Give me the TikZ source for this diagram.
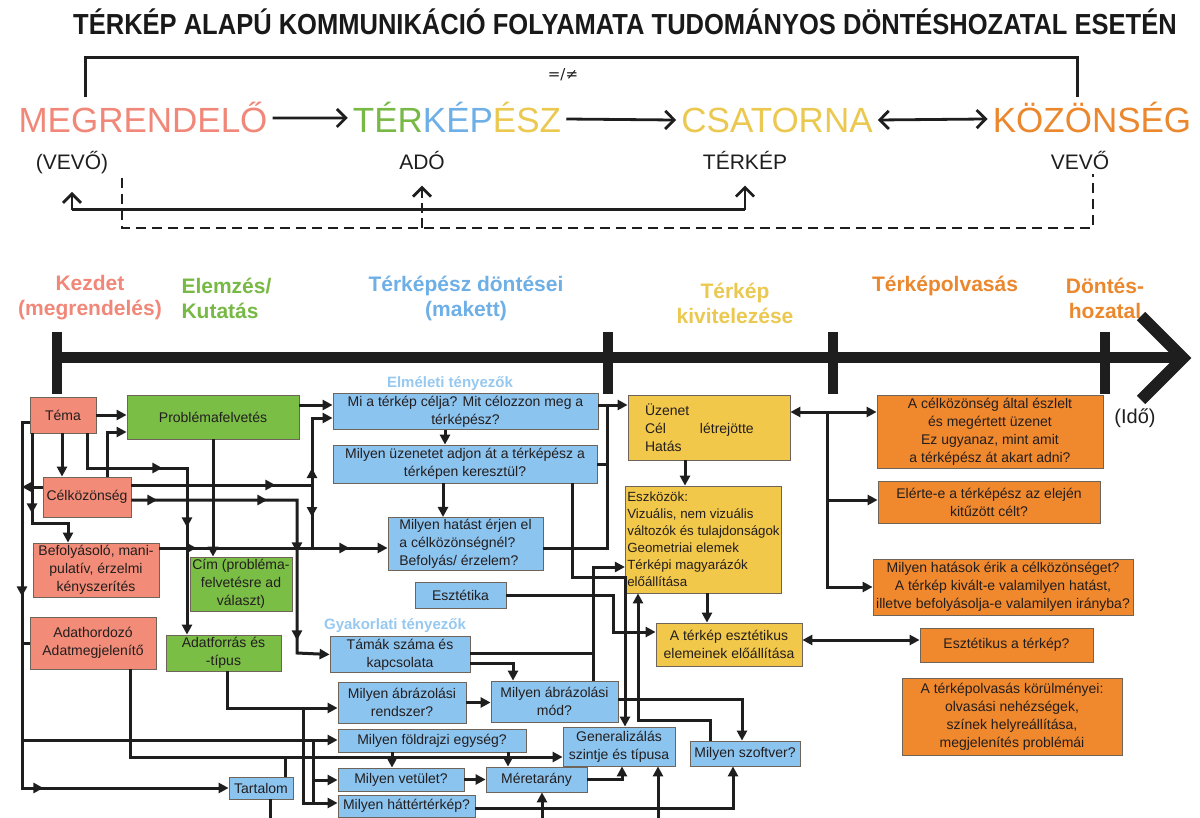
\documentclass[tikz,border=0pt]{standalone}
\usepackage{fontspec}
\setmainfont{Liberation Sans}
\newfontfamily\symfont{DejaVu Sans}
\usepackage{graphicx}
\usepackage{tikz}
\usetikzlibrary{positioning,arrows.meta,decorations.markings}

\definecolor{titlec}{RGB}{25,25,25}
\definecolor{lnc}{RGB}{30,30,30}
\definecolor{tsalm}{RGB}{240,135,120}
\definecolor{tgreen}{RGB}{120,185,70}
\definecolor{tblue}{RGB}{110,175,230}
\definecolor{tyellow}{RGB}{235,200,80}
\definecolor{torange}{RGB}{235,135,45}
\definecolor{salmfill}{RGB}{242,140,120}
\definecolor{greenfill}{RGB}{122,190,70}
\definecolor{bluefill}{RGB}{140,196,240}
\definecolor{yellowfill}{RGB}{242,200,75}
\definecolor{orangefill}{RGB}{240,136,45}
\definecolor{boxline}{RGB}{110,100,90}
\definecolor{boxtxt}{RGB}{35,30,30}
\definecolor{labblue}{RGB}{150,200,240}

\tikzset{
  box/.style={draw=boxline, line width=0.8, inner sep=2pt, align=center, text=boxtxt,
    font=\fontsize{14}{18}\selectfont},
  sbox/.style={box, fill=salmfill},
  gbox/.style={box, fill=greenfill},
  bbox/.style={box, fill=bluefill},
  ybox/.style={box, fill=yellowfill},
  obox/.style={box, fill=orangefill},
  ln/.style={line width=3, draw=lnc},
  arr/.style={ln, ->},
  midarr/.style={postaction={decorate, decoration={markings, mark=at position #1 with {\arrow{>}}}}},
  barb/.tip={Straight Barb[length=9pt,width=18pt]},
  oarr/.style={line width=2.8, draw=lnc, -barb},
  dln/.style={line width=2.8, draw=lnc, dash pattern=on 10pt off 6pt},
  bigw/.style={font=\fontsize{35}{35}\selectfont, anchor=base, inner sep=5pt},
  subw/.style={font=\fontsize{21}{21}\selectfont, anchor=base, text=lnc},
  hdr/.style={font=\fontsize{21}{25}\selectfont\bfseries, align=center},
  grp/.style={font=\fontsize{15}{15}\selectfont\bfseries, text=labblue},
}

\begin{document}
\begin{tikzpicture}[x=1pt, y=-1pt, >={Triangle[length=10pt,width=10pt]}]
\useasboundingbox (0,0) rectangle (1200,818);

% title
\node[font=\fontsize{29}{29}\selectfont\bfseries, text=titlec] (title) at (625,22)
  {\scalebox{0.88}[1]{TÉRKÉP ALAPÚ KOMMUNIKÁCIÓ FOLYAMATA TUDOMÁNYOS DÖNTÉSHOZATAL ESETÉN}};

% communication chain
\node[bigw, text=tsalm] (meg) at (143,133) {MEGRENDELŐ};
\node[bigw] (terk) at (457,133) {\textcolor{tgreen}{TÉR}\textcolor{tblue}{KÉP}\textcolor{tyellow}{ÉSZ}};
\node[bigw, text=tyellow] (csat) at (777,133) {CSATORNA};
\node[bigw, text=torange] (koz) at (1092,133) {KÖZÖNSÉG};
\node[subw] (vevo1) at (72,170) {(VEVŐ)};
\node[subw] (ado) at (422,170) {ADÓ};
\node[subw] (terkep) at (745,170) {TÉRKÉP};
\node[subw] (vevo2) at (1080,170) {VEVŐ};
\node[font=\fontsize{15}{15}\symfont, text=lnc] (neq) at (563,75) {=/≠};

\draw[oarr] (meg) -- (terk);
\draw[oarr] (terk) -- (csat);
\draw[oarr, barb-barb] (csat) -- (koz);
\draw[ln] (meg.north -| 85,0) -- (85,58) -| (koz.north -| 1077,0);

\coordinate (sl) at (72,210);
\coordinate (sr) at (745,210);
\coordinate (sa) at (422,228);
\draw[ln] (sl) -- (sr);
\draw[oarr, shorten >=14pt] (sl) -- (vevo1.south);
\draw[oarr, shorten >=12pt] (sr) -- (terkep.south);
\draw[oarr, dash pattern=on 10pt off 5pt, shorten >=12pt] (sa) -- (ado.south);
\draw[dln] (vevo1.south -| 122,0) -- (122,228) -| (vevo2.south -| 1093,0);

% time axis
\node[hdr, text=tsalm] (h1) at (90,298) {Kezdet\\(megrendelés)};
\node[hdr, text=tgreen, align=left, anchor=west] (h2) at (178,298) {Elemzés/\\Kutatás};
\node[hdr, text=tblue] (h3) at (466,298) {Térképész döntései\\(makett)};
\node[hdr, text=tyellow] (h4) at (735,303) {Térkép\\kivitelezése};
\node[hdr, text=torange] (h5) at (945,286) {Térképolvasás};
\node[hdr, text=torange] (h6) at (1105,298) {Döntés-\\hozatal};
\draw[line width=11, lnc] (57,358) -- (1180,358);
\draw[line width=12, lnc, line join=miter] (1141,316) -- (1183,358) -- (1141,400);
\foreach \x in {57,608,833,1105} { \draw[line width=10, lnc] (\x,332) -- (\x,394); }
\node[font=\fontsize{20}{20}\selectfont, text=lnc] (ido) at (1135,418) {(Idő)};

\node[grp] (elm) at (450,384) {Elméleti tényezők};
\node[grp] (gyak) at (395,626) {Gyakorlati tényezők};

% boxes
\node[sbox, minimum width=66, minimum height=36] (tema) at (63,415) {Téma};
\node[sbox, minimum width=88, minimum height=40] (celk) at (87,497) {Célközönség};
\node[sbox, minimum width=126, minimum height=54] (befoly) at (96,570) {Befolyásoló, mani-\\pulatív, érzelmi\\kényszerítés};
\node[sbox, minimum width=126, minimum height=52] (adath) at (93,643) {Adathordozó\\Adatmegjelenítő};

\node[gbox, minimum width=172, minimum height=44] (probl) at (213,417) {Problémafelvetés};
\node[gbox, minimum width=102, minimum height=54] (cim) at (241,584) {Cím (probléma-\\felvetésre ad\\választ)};
\node[gbox, minimum width=115, minimum height=36] (adatf) at (223.5,653) {Adatforrás és\\-típus};

\node[bbox, minimum width=265, minimum height=33] (cel) at (465.5,411.5) {Mi a térkép célja? Mit célozzon meg a\\térképész?};
\node[bbox, minimum width=264, minimum height=38] (uzen) at (465,464) {Milyen üzenetet adjon át a térképész a\\térképen keresztül?};
\node[bbox, minimum width=155, minimum height=52, align=left] (hatas) at (465.5,544) {Milyen hatást érjen el\\a célközönségnél?\\Befolyás/ érzelem?};
\node[bbox, minimum width=91, minimum height=26] (eszt) at (460.5,595) {Esztétika};
\node[bbox, minimum width=140, minimum height=35] (temak) at (400,654.5) {Támák száma és\\kapcsolata};
\node[bbox, minimum width=128, minimum height=41] (rendsz) at (402,702.5) {Milyen ábrázolási\\rendszer?};
\node[bbox, minimum width=127, minimum height=41] (mod) at (554.5,701.5) {Milyen ábrázolási\\mód?};
\node[bbox, minimum width=188, minimum height=23] (foldr) at (432,740.5) {Milyen földrajzi egység?};
\node[bbox, minimum width=112, minimum height=39] (gener) at (619,746.5) {Generalizálás\\szintje és típusa};
\node[bbox, minimum width=126, minimum height=23] (vetul) at (401,779.5) {Milyen vetület?};
\node[bbox, minimum width=101, minimum height=25] (meret) at (536.5,779.5) {Méretarány};
\node[bbox, minimum width=137, minimum height=22] (hatter) at (406.5,806) {Milyen háttértérkép?};
\node[bbox, minimum width=64, minimum height=22] (tartalom) at (261,788) {Tartalom};
\node[bbox, minimum width=110, minimum height=25] (szoftv) at (745,753.5) {Milyen szoftver?};

\node[ybox, minimum width=162, minimum height=65, text width=128, align=left] (letrej) at (709,427.5) {Üzenet\\\makebox[55pt][l]{Cél}létrejötte\\Hatás};
\node[ybox, minimum width=153, minimum height=107, align=left, font=\fontsize{13.3}{17}\selectfont] (eszkoz) at (703.5,539.5) {Eszközök:\\Vizuális, nem vizuális\\változók és tulajdonságok\\Geometriai elemek\\Térképi magyarázók\\előállítása};
\node[ybox, minimum width=146, minimum height=43] (esztel) at (729,644.5) {A térkép esztétikus\\elemeinek előállítása};

\node[obox, minimum width=226, minimum height=73] (oeszl) at (990,431.5) {A célközönség által észlelt\\és megértett üzenet\\Ez ugyanaz, mint amit\\a térképész át akart adni?};
\node[obox, minimum width=222, minimum height=42] (oelert) at (989,502) {Elérte-e a térképész az elején\\kitűzött célt?};
\node[obox, minimum width=260, minimum height=56] (ohatas) at (1003,587) {Milyen hatások érik a célközönséget?\\A térkép kivált-e valamilyen hatást,\\illetve befolyásolja-e valamilyen irányba?};
\node[obox, minimum width=173, minimum height=34] (oeszt) at (1006.5,645) {Esztétikus a térkép?};
\node[obox, minimum width=220, minimum height=77] (okorul) at (1012,716.5) {A térképolvasás körülményei:\\olvasási nehézségek,\\színek helyreállítása,\\megjelenítés problémái};

% bus points
\coordinate (busA) at (312,485);
\coordinate (busB) at (607,405);
\coordinate (busC) at (593,653);
\coordinate (busD) at (827,412);
\coordinate (busE) at (303,708);
\coordinate (busF) at (313,740);
\coordinate (bt1) at (542,818);
\coordinate (bt2) at (658,818);
\coordinate (bt3) at (270,818);

% left side
\draw[arr] (tema.east) -- (tema.east -| probl.west);
\draw[arr] (tema.south -| 62,0) -- (celk.north -| 62,0);
\draw[arr, midarr=80pt] (tema.south -| 32,0) |- (68,523) -- (befoly.north -| 68,0);
\draw[arr, midarr=182pt, midarr=395pt] (tema.west |- 0,422) -| (22,788) -- (tartalom.west);
\draw[ln] (22,643) -- (adath.west);
\draw[arr] (celk.west |- 0,487) -- (22,487);
\draw[arr, midarr=110pt, midarr=194pt] (tema.south -| 87,0) |- (187,468) -- (adatf.north -| 187,0);
\draw[arr] (celk.north -| 107,0) |- (probl.west |- 0,432);
\draw[ln, midarr=144pt] (celk.east |- 0,485) -- (busA);
\draw[arr, midarr=17pt] (busA) |- (cel.west |- 0,418);
\draw[ln, midarr=32pt] (busA) -- (312,548);
\draw[arr, midarr=26pt, midarr=136pt, midarr=218pt, midarr=306pt] (celk.east |- 0,500) -| (297,653) -- (temak.west);
\draw[arr] (probl.east |- 0,405) -- (cel.west |- 0,405);
\draw[arr] (probl.south -| 213,0) -- (cim.north -| 213,0);
\draw[arr, midarr=37pt, midarr=190pt] (befoly.east |- 0,548) -- (hatas.west |- 0,548);

% theoretical factors
\draw[arr] (cel.south -| 445,0) -- (uzen.north -| 445,0);
\draw[arr] (uzen.south -| 443,0) -- (hatas.north -| 443,0);
\draw[arr] (cel.east |- 0,405) -- (letrej.west |- 0,405);
\draw[ln] (uzen.east) -- (uzen.east -| busB);
\draw[ln] (hatas.east |- 0,548) -| (busB);
\draw[arr] (uzen.south -| 572,0) |- (625,577) -- (gener.north -| 625,0);
\draw[arr] (eszt.east) -| (613,632) -- (esztel.west |- 0,632);

% practical factors
\draw[arr] (temak.east |- 0,653) -| (593,567) -- (eszkoz.west |- 0,567);
\draw[ln] (mod.north -| busC) -- (busC);
\draw[arr] (temak.east |- 0,663) -| (mod.north -| 513,0);
\draw[arr] (rendsz.east) -- (rendsz.east -| mod.west);
\draw[arr] (mod.east |- 0,699) -| (szoftv.north -| 742,0);
\draw[arr] (szoftv.north -| 710,0) |- (638,720) -- (eszkoz.south -| 638,0);
\draw[arr] (foldr.south -| 392,0) -- (vetul.north -| 392,0);
\draw[arr] (foldr.south -| 508,0) -- (meret.north -| 508,0);
\draw[arr] (adath.south -| 130,0) |- (gener.west |- 0,757);
\draw[ln] (tartalom.north -| 285,0) -- (285,757);
\draw[ln] (tartalom.south -| bt3) -- (bt3);
\draw[arr] (vetul.east) -- (vetul.east -| meret.west);
\draw[arr] (meret.east) -| (gener.south -| 622,0);
\draw[arr] (bt1) -- (meret.south -| bt1);
\draw[arr] (bt2) -- (gener.south -| bt2);
\draw[arr] (hatter.east |- 0,808) -| (szoftv.south -| 733,0);
\draw[arr] (adatf.south -| 227,0) |- (rendsz.west |- busE);
\draw[arr] (busE) |- (hatter.west |- 0,803);
\draw[arr] (22,740) -- (foldr.west |- busF);
\draw[arr] (busF) |- (vetul.west |- 0,780);
\draw[ln] (313,780) -- (313,803);

% production and reading
\draw[arr] (letrej.south -| 685,0) -- (eszkoz.north -| 685,0);
\draw[arr] (eszkoz.south -| 707,0) -- (esztel.north -| 707,0);
\draw[arr, <->] (letrej.east |- busD) -- (oeszl.west |- busD);
\draw[arr] (busD) |- (oelert.west |- 0,500);
\draw[arr] (827,500) |- (ohatas.west |- 0,587);
\draw[arr, <->] (esztel.east |- 0,640) -- (oeszt.west |- 0,640);
\end{tikzpicture}
\end{document}
